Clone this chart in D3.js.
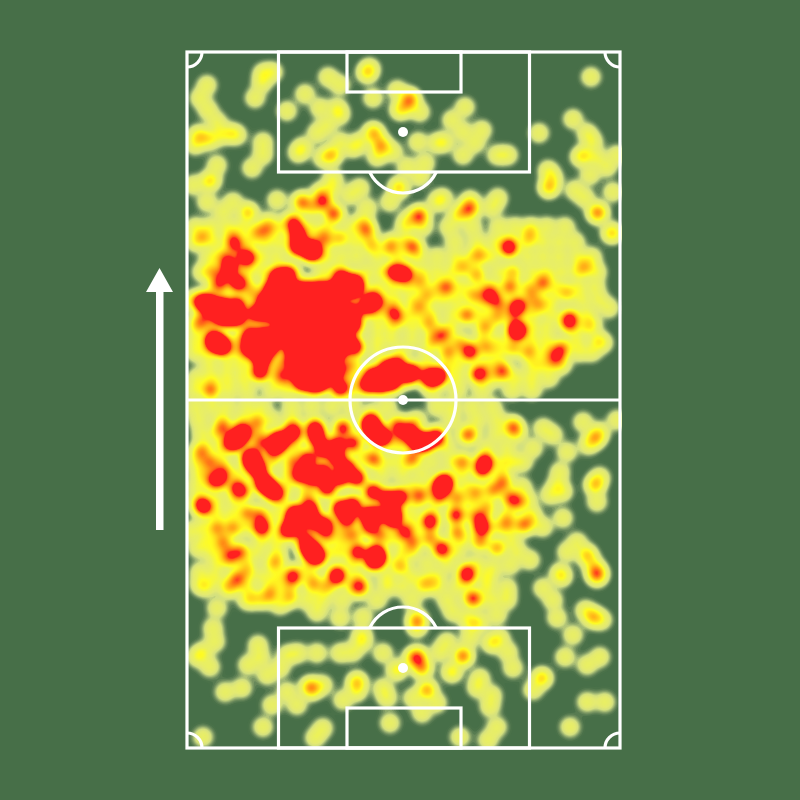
<!DOCTYPE html>
<html><head><meta charset="utf-8">
<script src="https://cdn.jsdelivr.net/npm/d3@7"></script>
<style>html,body{margin:0;padding:0;background:#476f48}svg{display:block}</style>
</head><body><div id="chart"></div>
<script>
// [x, y, touches] in pitch units (0..433 across, 0..696 along)
const hotTouches = [
[90,225,5],[102,222,5],[155,226,5],[168,230,5],
[84,237,5],[96,237,5],[108,237,5],[120,237,5],[132,237,5],[144,237,5],[156,237,5],[168,237,5],
[78,249,5],[90,249,5],[102,249,5],[114,249,5],[126,249,5],[138,249,5],[150,249,5],[185,248,5],[180,255,4],
[70,261,5],[82,261,5],[94,261,5],[106,261,5],[118,261,5],[130,261,5],[142,261,5],[154,261,5],[166,261,5],
[95,273,5],[107,273,5],[119,273,5],[131,273,5],[143,273,5],[155,273,5],[167,273,5],
[63,285,5],[75,285,5],[87,285,5],[99,285,5],[111,285,5],[123,285,5],[135,285,5],[147,285,5],[159,287,5],
[62,297,5],[72,300,5],[84,296,5],[105,297,5],[117,297,5],[129,297,5],[141,297,5],[153,297,5],[168,295,5],
[75,307,5],[110,309,5],[122,309,5],[134,309,5],[146,305,5],
[112,321,5],[124,321,5],[136,321,5],[145,320,5],[73,320,5],[115,331,5],[127,333,5],[135,330,5],
[111,183,5],[110,195,5],[122,198,5],[127,200,5],[208,220,5],[218,222,5],
[15,250,5],[23,251,5],[36,253,5],[50,253,5],[40,266,5],[50,266,5],[33,263,5],
[31,291,5],[36,295,5],[26,288,5],[43,216,5],[51,231,5],[61,206,4],
[180,333,5],[193,333,5],[206,330,5],[220,323,5],[200,316,5],[210,313,5],[186,323,5],[200,326,5],[226,320,4],
[248,325,4],[241,326,4],[253,324,3],[153,336,5],
[322,196,4.5],[331,254,5],[330,280,5],[330,276,3],[283,300,4.5],[292,322,4.5],
[51,386,5],[56,380,5],[45,391,5],[91,388,5],[91,393,4],[106,379,4],
[66,411,5],[63,405,5],[71,418,5],[81,435,5],[88,441,5],[76,430,5],[17,455,4.5],
[128,376,5],[130,386,5],[136,398,5],[150,393,5],[156,376,4],[166,391,4],[150,406,5],[160,416,5],[170,426,5],
[153,426,5],[140,436,5],[126,426,5],[113,423,5],[136,420,5],[121,408,5],
[108,461,5],[108,468,5],[123,456,5],[126,468,5],[138,473,5],[153,456,5],[166,453,5],[160,466,5],[180,463,5],[190,463,5],[183,475,4],
[186,440,5],[200,446,5],[213,445,5],[206,460,5],[206,468,5],[75,475,5],[100,478,5],
[126,500,5],[130,505,5],[121,495,5],[171,500,4.5],[191,506,4.5],[189,500,4],[186,510,4],
[185,376,5],[190,383,5],[196,386,5],[183,371,5],[226,386,5],[233,391,5],[250,385,5],[240,390,5],
[298,410,5],[295,418,3.5],[258,430,5],[255,434,4],[243,470,4.5],[269,463,4],[295,476,4.5],[293,466,3],[255,497,4.5]
];
const warmTouches = [
[16,185,2],[48,193,3],[46,186,2],[80,178,2],[70,180,2],[153,186,2],[136,185,2],[180,180,2],[185,193,2],[203,196,2],[226,195,3],
[233,230,2],[240,243,2],[260,235,3],[206,260,3],[211,266,2],[193,250,2],[280,263,3],[256,283,3],[246,288,2],[273,291,2],[300,296,2],
[316,320,3],[356,231,3],[398,215,2],[380,241,2],[383,266,3],[381,271,2],[370,303,2.5],[375,296,2.5],[366,310,1.5],
[306,246,3],[300,240,2],[313,253,2],[323,235,3],[293,203,2],[276,215,2],[286,243,2],[343,183,1.5],[326,220,2],[326,263,2],[353,253,2],[326,296,2],
[233,255,2],[240,270,1.5],[290,225,1.5],[310,265,2],[300,275,1.5],[262,300,1.5],[345,240,1.5],[340,300,1.5],
[160,313,2],[153,320,2],[23,338,2],[100,310,2],[96,323,2],[13,270,2],[20,263,2],[33,233,2],[36,226,2],[26,220,2],[66,242,1.5],[40,206,2],[56,205,2],
[223,376,3],[210,373,3],[33,428,3],[217,480,3.5],[326,375,3],[53,500,3],[280,520,3],[150,522,3],[410,521,2.5],
[213,383,2.5],[276,410,2.5],[323,446,2.5],[306,438,2.5],[316,431,2.5],[330,450,2.5],[233,443,2.5],[270,446,2.5],[253,443,2.5],[60,461,2.5],[73,463,2.5],
[280,383,2.5],[186,406,2.5],[226,406,2.5],[116,486,2.5],[110,476,2.5],[140,483,2.5],[166,483,2.5],[193,483,2.5],[226,490,2.5],[243,486,2.5],[270,480,2.5],
[293,490,2.5],[310,496,2.5],[106,523,2.5],[46,476,2.5],[36,490,2.5],[43,506,2.5],[30,476,2.5],[23,410,2.5],[13,400,2],[36,376,2.5],[70,370,2.5],[100,386,2.5],
[76,390,2.5],[86,400,2.5],[106,410,2.5],[36,420,2.5],[26,430,2.5],[56,440,2.5],[50,436,2.5],[13,450,2],[336,473,2.5],
[290,440,2],[300,455,2],[320,470,1.5],[90,510,1.5],[60,520,1.5],[215,515,1.5],[240,530,1.5],
[150,525,3],[173,535,3.5],[285,546,3],[280,525,2.5],[50,528,2],[106,526,2],[103,545,2],[83,543,2],[126,533,2],[140,535,2],
[230,568,2.5],[231,605,2.5],[235,616,2.5],[226,606,1.5],[240,638,2.5],[276,604,3],[265,620,1.7],[210,618,1.7],[305,591,1.5],
[223,46,1.5],[223,48,1],[213,58,1.5],[180,21,1.5],[183,16,1],[186,80,1.5],[195,93,1.5],[193,95,1],[188,83,1],
[115,150,2],[115,151,1],[136,148,2],[136,150,1.5],[126,156,1.5],[146,161,2],[148,163,1.5],[105,170,2],[108,171,1.5],
[233,163,2],[231,165,1.5],[221,168,1],[280,158,2],[285,156,1.5],[271,163,1.5],[283,148,1],[411,161,2],[410,160,1]
];
const plainTouches = [
[76,21],[68,46],[75,31],[86,20],[20,33],[13,46],[21,58],[30,70],[16,85],[23,88],[10,83],[43,81],[50,83],[33,83],[8,93],[76,90],[76,103],[65,116],
[30,113],[25,128],[21,130],[6,133],[141,25],[118,42],[100,59],[153,33],[150,56],[133,56],[153,63],[140,73],[130,81],[116,95],[111,101],[145,103],[145,103],[153,90],[136,106],
[186,46],[210,38],[233,60],[220,53],[173,90],[166,96],[190,105],[206,100],[231,90],[258,90],[250,91],[276,103],[276,80],[265,68],[278,55],[295,78],[288,91],[310,103],[321,103],
[220,115],[238,111],[233,125],[213,136],[352,81],[404,25],[386,67],[400,81],[406,90],[398,103],[393,105],[410,106],[420,115],[430,103],[361,118],[363,135],[361,136],[366,126],
[388,138],[398,146],[403,123],[426,140],[20,150],[36,160],[46,150],[61,160],[61,161],[90,148],[81,170],[146,126],[145,136],[133,140],[173,136],[163,143],[180,156],[176,170],[211,135],[203,150],[250,150],[256,146],[311,146],[305,156],
[8,175],[24,175],[40,175],[55,175],[92,175],[108,175],[124,175],[140,175],[165,175],[178,175],[218,175],[236,175],[262,175],[285,175],[312,175],[328,175],[344,175],[360,175],[378,175],
[8,190],[28,190],[62,190],[78,190],[92,190],[124,190],[140,190],[168,190],[205,190],[218,190],[268,190],[290,190],[308,190],[322,190],[340,190],[356,190],[372,190],[388,190],[425,181],[425,181],
[22,205],[34,205],[75,205],[90,205],[140,205],[155,205],[170,205],[190,205],[212,205],[232,205],[250,205],[268,205],[285,205],[305,205],[340,205],[356,205],[372,205],[390,205],[405,205],
[15,220],[60,220],[75,220],[92,220],[135,220],[150,220],[180,220],[195,220],[235,220],[250,220],[265,220],[290,220],[312,220],[345,220],[360,220],[375,220],[390,220],[410,220],
[28,235],[62,235],[190,235],[205,235],[220,235],[250,235],[275,235],[305,235],[340,235],[370,235],[392,235],[408,235],
[5,248],[165,248],[208,248],[225,248],[255,248],[270,248],[295,248],[345,248],[365,248],[395,248],[412,248],
[60,262],[190,262],[225,262],[245,262],[265,262],[295,262],[345,262],[365,262],[400,262],[422,256],
[10,275],[25,275],[62,275],[78,275],[190,275],[205,275],[225,275],[245,275],[265,275],[295,275],[345,275],[360,275],[385,275],[400,275],[405,272],
[8,288],[50,288],[190,288],[205,288],[225,288],[295,288],[312,288],[345,288],[360,288],[390,288],[410,288],[416,291],
[8,300],[20,300],[50,300],[190,300],[215,300],[240,300],[260,300],[312,300],[345,300],[360,300],[392,300],[405,300],
[22,313],[40,313],[55,313],[90,313],[170,313],[240,313],[260,313],[272,313],[300,313],[312,313],[345,313],[355,313],[375,313],
[10,326],[25,326],[40,326],[56,326],[90,326],[100,326],[165,326],[270,326],[305,326],[330,326],[345,326],[362,326],
[8,338],[25,338],[42,338],[60,338],[85,338],[100,338],[165,338],[245,338],[270,338],[295,338],[325,338],[345,338],
[396,370],[408,386],[408,386],[401,393],[413,380],[430,368],[356,376],[366,383],[346,396],[336,410],[380,400],[373,420],[370,433],[376,440],[363,443],[408,433],[408,433],[410,450],[413,425],
[376,466],[356,475],[343,470],[390,490],[380,500],[400,503],[400,503],[406,513],[343,508],[373,521],[323,513],[306,516],[11,496],[3,480],[13,520],
[8,355],[25,355],[40,355],[60,355],[75,355],[105,355],[125,355],[145,355],[165,355],[200,355],[250,355],[265,355],[285,355],[305,355],
[12,368],[35,368],[55,368],[85,368],[105,368],[185,362],[230,368],[265,368],[290,368],[310,368],
[15,382],[30,382],[70,382],[110,382],[285,382],[310,382],[330,382],
[18,396],[35,396],[70,396],[110,396],[175,405],[210,396],[260,396],[300,396],[320,396],
[10,410],[35,410],[85,410],[190,410],[205,410],[220,410],[245,410],[265,410],[315,410],[325,410],
[12,422],[22,422],[50,422],[100,422],[195,422],[215,422],[235,422],[275,422],[315,422],
[10,435],[50,435],[100,435],[120,440],[225,435],[245,435],[280,435],[335,435],
[30,448],[48,448],[95,448],[120,445],[230,448],[250,448],[285,448],[340,448],
[30,462],[45,462],[90,462],[225,462],[245,462],[285,462],[320,462],[345,462],
[15,475],[60,475],[125,480],[155,478],[225,475],[310,475],[320,475],
[20,488],[75,488],[90,488],[155,488],[205,488],[275,488],[325,488],
[25,500],[40,500],[70,500],[90,500],[145,500],[155,500],[215,500],[225,500],[270,500],[330,500],
[30,512],[60,512],[85,512],[120,515],[165,512],[210,512],[240,512],[260,512],[290,512],
[28,525],[50,525],[75,525],[90,525],[125,525],[170,525],[200,525],[225,525],[250,525],[300,525],
[20,535],[40,535],[60,535],[85,535],[100,535],[165,535],[200,535],[215,535],[235,535],[250,535],[270,535],[300,535],[320,536],[13,533],[43,536],
[60,548],[75,548],[120,548],[135,548],[155,548],[190,548],[225,548],[260,548],[290,548],[305,548],[320,548],[66,546],
[93,553],[130,560],[153,566],[176,565],[266,560],[280,566],[293,570],[310,563],[30,556],
[26,576],[28,590],[16,600],[23,615],[10,605],[71,593],[73,606],[61,613],[80,623],[93,616],[111,601],[130,601],[100,603],
[100,640],[110,653],[85,653],[123,635],[123,635],[136,633],[126,638],[153,601],[175,583],[175,590],[166,600],[196,601],[170,630],[170,630],[170,640],[156,648],[196,636],[200,646],
[38,640],[55,636],[76,675],[203,671],[235,661],[226,646],[250,651],[136,676],[128,686],[273,685],[310,675],[301,688],[16,685],
[293,626],[290,636],[305,643],[303,655],[321,600],[326,616],[313,586],[260,590],[253,600],[283,586],
[355,626],[355,626],[346,638],[370,566],[366,548],[356,536],[378,605],[386,583],[413,605],[400,613],[398,558],[406,565],[406,565],[415,568],[400,650],[418,650],[383,675],[230,576],[286,573],[375,525],[410,525]
];
const densityStops = [0.06,0.16,0.3,0.45,0.7,1.15,1.7,2.4,3.05,3.55,3.8];
const densityColors = ["#4a7149","#6b8a5c","#a2b874","#d4e07f","#e4ea72","#eaf060","#fffc22","#ffc81c","#ff9016","#ff5a1c","#ff2020"];
const pitchW = 433, pitchL = 696;
const boxWidth = 251, boxDepth = 120, sixWidth = 114, sixDepth = 40, spotDist = 80;
const centerR = 53, arcR = 37, arcCenterDist = 104, cornerR = 15;

const svg = d3.select("#chart").append("svg").attr("width",800).attr("height",800);
svg.append("rect").attr("width",800).attr("height",800).attr("fill","#476f48");
const x = d3.scaleLinear().domain([0,pitchW]).range([187,620]);
const y = d3.scaleLinear().domain([0,pitchL]).range([52,748]);

const touches = hotTouches.concat(warmTouches, plainTouches.map(d=>[d[0],d[1],1.05]));
const cell = 2, sigma = 6.3;
const nx = Math.ceil((x(pitchW)-x(0))/cell)+1, ny = Math.ceil((y(pitchL)-y(0))/cell)+1;
const grid = new Float64Array(nx*ny);
for (const [a,b,w] of touches){
  const px = x(a)-x(0), py = y(b)-y(0), R = 3.5*sigma;
  const i0=Math.max(0,Math.floor((px-R)/cell)), i1=Math.min(nx-1,Math.ceil((px+R)/cell));
  const j0=Math.max(0,Math.floor((py-R)/cell)), j1=Math.min(ny-1,Math.ceil((py+R)/cell));
  for(let j=j0;j<=j1;j++)for(let i=i0;i<=i1;i++){
    const dx=i*cell-px, dy=j*cell-py;
    grid[j*nx+i]+=w*Math.exp(-(dx*dx+dy*dy)/(2*sigma*sigma));
  }
}
const color = d3.scaleLinear().domain(densityStops).range(densityColors).clamp(true);
const levels = d3.range(0.05,1.2,0.05).concat(d3.range(1.2,3.9,0.06));
const contours = d3.contours().size([nx,ny]).thresholds(levels)(Array.from(grid));
const path = d3.geoPath();
svg.append("g").attr("transform",`translate(${x(0)-cell/2},${y(0)-cell/2}) scale(${cell})`)
  .selectAll("path").data(contours).join("path")
  .attr("d",path).attr("fill",d=>color(d.value)).attr("stroke","none");

const lines = svg.append("g").attr("fill","none").attr("stroke","#fff").attr("stroke-width",3.2);
const mid = pitchW/2 - 0.5;
lines.append("rect").attr("x",x(0)).attr("y",y(0)).attr("width",x(pitchW)-x(0)).attr("height",y(pitchL)-y(0));
lines.append("line").attr("x1",x(0)).attr("x2",x(pitchW)).attr("y1",y(pitchL/2)).attr("y2",y(pitchL/2));
lines.append("circle").attr("cx",x(mid)).attr("cy",y(pitchL/2)).attr("r",centerR);
for (const [d0,s] of [[0,1],[pitchL,-1]]){
  lines.append("rect").attr("x",x(mid+1-boxWidth/2)).attr("width",boxWidth).attr("y",Math.min(y(d0),y(d0+s*boxDepth))).attr("height",boxDepth);
  lines.append("rect").attr("x",x(mid+1-sixWidth/2)).attr("width",sixWidth).attr("y",Math.min(y(d0),y(d0+s*sixDepth))).attr("height",sixDepth);
  const cy = y(d0+s*arcCenterDist), by = y(d0+s*boxDepth);
  const dx = Math.sqrt(arcR*arcR-(by-cy)*(by-cy));
  lines.append("path").attr("d",`M${x(mid)-dx},${by}A${arcR},${arcR} 0 0 ${s>0?0:1} ${x(mid)+dx},${by}`);
  svg.append("circle").attr("cx",x(mid)).attr("cy",y(d0+s*spotDist)).attr("r",5).attr("fill","#fff");
  for (const cx of [0,pitchW]){
    const sx = cx===0?1:-1;
    lines.append("path").attr("d",`M${x(cx)+sx*cornerR},${y(d0)}A${cornerR},${cornerR} 0 0 ${sx*s>0?1:0} ${x(cx)},${y(d0)+s*cornerR}`);
  }
}
svg.append("circle").attr("cx",x(mid)).attr("cy",y(pitchL/2)).attr("r",5).attr("fill","#fff");
svg.append("path").attr("fill","#fff").attr("d","M156,530V292H146L159.5,268L173,292H163.5V530Z");
</script></body></html>
